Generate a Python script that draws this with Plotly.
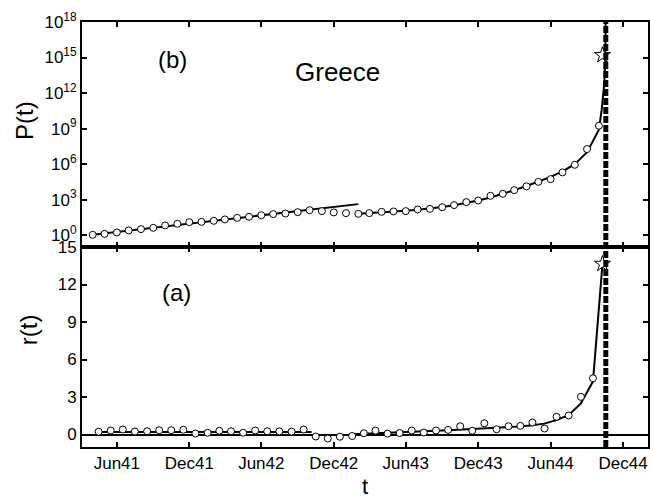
import plotly.graph_objects as go
import pandas as pd

# ---------------- data ----------------
# monthly observations, Apr 1941 .. Oct 1944
p_start = "1941-04-01"
n_months = 43
log10_P = [0.03, 0.11, 0.23, 0.40, 0.51, 0.62, 0.82, 0.96, 1.10, 1.12,
           1.21, 1.33, 1.46, 1.55, 1.68, 1.78, 1.83, 1.94, 2.11, 2.03,
           1.92, 1.86, 1.80, 1.86, 1.97, 2.00, 2.03, 2.17, 2.22, 2.36,
           2.54, 2.79, 2.93, 3.32, 3.49, 3.80, 4.12, 4.50, 4.73, 5.30,
           5.94, 7.27, 9.24]

# growth rate between consecutive months
r_vals = [0.22, 0.32, 0.40, 0.24, 0.26, 0.34, 0.34, 0.38, 0.08, 0.14,
          0.30, 0.26, 0.14, 0.32, 0.26, 0.25, 0.23, 0.40, -0.16, -0.32,
          -0.18, -0.12, 0.10, 0.31, 0.07, 0.12, 0.32, 0.16, 0.32, 0.37,
          0.66, 0.30, 0.90, 0.42, 0.66, 0.69, 0.96, 0.48, 1.42, 1.52,
          3.01, 4.50]

# fit 1 (exponential regime)
fit1_P_dates = ["1941-04-01", "1943-02-01"]
fit1_log10_P = [0.04, 2.62]
fit1_r_dates = ["1941-04-16", "1942-10-06"]
fit1_r = [0.2, 0.2]

# fit 2 (singular regime)
fit2_P_dates = ["1943-02-01", "1943-03-01", "1943-04-01", "1943-05-01", "1943-06-01",
                "1943-07-01", "1943-08-01", "1943-09-01", "1943-10-01", "1943-11-01",
                "1943-12-01", "1944-01-01", "1944-02-01", "1944-03-01", "1944-04-01",
                "1944-05-01", "1944-06-01", "1944-07-01", "1944-08-01", "1944-09-01",
                "1944-10-01", "1944-10-08", "1944-10-12", "1944-10-15", "1944-10-17",
                "1944-10-18"]
fit2_log10_P = [1.80, 1.85, 1.92, 1.99, 2.07, 2.15, 2.25, 2.37, 2.52, 2.70,
                2.92, 3.18, 3.47, 3.80, 4.15, 4.52, 4.92, 5.38, 6.00, 7.00,
                8.90, 10.6, 11.8, 13.0, 15.0, 18.0]
fit2_r_dates = ["1943-01-16", "1943-02-15", "1943-03-16", "1943-04-16", "1943-05-16",
                "1943-06-16", "1943-07-16", "1943-08-16", "1943-09-16", "1943-10-16",
                "1943-11-16", "1943-12-16", "1944-01-16", "1944-02-15", "1944-03-16",
                "1944-04-16", "1944-05-16", "1944-06-16", "1944-07-16", "1944-08-16",
                "1944-09-16", "1944-10-10"]
fit2_r = [0.03, 0.06, 0.10, 0.13, 0.17, 0.21, 0.26, 0.30, 0.35, 0.39,
          0.43, 0.47, 0.52, 0.58, 0.65, 0.74, 0.87, 1.15, 1.55, 2.47,
          4.25, 13.65]

# predicted singularity
star_date = "1944-10-10"
star_log10_P = 15.2
star_r = 13.65
tc_date = "1944-10-18 10:00"

x_ticks = ["1941-06-01", "1941-12-01", "1942-06-01", "1942-12-01",
           "1943-06-01", "1943-12-01", "1944-06-01", "1944-12-01"]
x_ticktext = ["Jun41", "Dec41", "Jun42", "Dec42", "Jun43", "Dec43", "Jun44", "Dec44"]
x_range = ["1941-03-05", "1945-02-02"]
p_tick_exps = [0, 3, 6, 9, 12, 15, 18]
r_ticks = [0, 3, 6, 9, 12, 15]

# ---------------- build ----------------
p_dates = pd.date_range(p_start, periods=n_months, freq="MS")
r_dates = p_dates[:-1] + (p_dates[1:] - p_dates[:-1]) / 2
P = [10 ** v for v in log10_P]

font_family = "Liberation Sans, Arial, Helvetica, sans-serif"
marker_circle = dict(symbol="circle", size=7, color="white",
                     line=dict(color="black", width=1))
marker_star = dict(symbol="star", size=12, color="white",
                   line=dict(color="black", width=1))
fit_line = dict(color="black", width=2)

fig = go.Figure()

# upper panel (P)
fig.add_trace(go.Scatter(x=fit1_P_dates, y=[10 ** v for v in fit1_log10_P],
                         mode="lines", line=fit_line, xaxis="x2", yaxis="y2"))
fig.add_trace(go.Scatter(x=fit2_P_dates, y=[10 ** v for v in fit2_log10_P],
                         mode="lines", line=fit_line, xaxis="x2", yaxis="y2"))
fig.add_trace(go.Scatter(x=p_dates, y=P, mode="markers", marker=marker_circle,
                         xaxis="x2", yaxis="y2"))
fig.add_trace(go.Scatter(x=[star_date], y=[10 ** star_log10_P], mode="markers",
                         marker=marker_star, xaxis="x2", yaxis="y2"))

# lower panel (r)
fig.add_trace(go.Scatter(x=fit1_r_dates, y=fit1_r, mode="lines", line=fit_line,
                         xaxis="x", yaxis="y"))
fig.add_trace(go.Scatter(x=fit2_r_dates, y=fit2_r, mode="lines", line=fit_line,
                         xaxis="x", yaxis="y"))
fig.add_trace(go.Scatter(x=r_dates, y=r_vals, mode="markers", marker=marker_circle,
                         xaxis="x", yaxis="y"))
fig.add_trace(go.Scatter(x=[star_date], y=[star_r], mode="markers",
                         marker=marker_star, xaxis="x", yaxis="y"))

split = 200 / 425.0
axis_common = dict(showline=True, linecolor="black", linewidth=2, mirror="ticks",
                   ticks="inside", ticklen=5, tickwidth=1.5, tickcolor="black",
                   showgrid=False, automargin=False,
                   tickfont=dict(size=17, color="black", family=font_family))

fig.update_layout(
    width=650, height=498,
    margin=dict(l=82, r=2, t=22, b=51),
    paper_bgcolor="white", plot_bgcolor="white",
    showlegend=False,
    font=dict(family=font_family, color="black"),
    xaxis=dict(domain=[0, 1], anchor="y", type="date", range=x_range,
               tickvals=x_ticks, ticktext=x_ticktext, zeroline=False, **axis_common),
    yaxis=dict(domain=[0, split], anchor="x", range=[-1, 15], tickvals=r_ticks,
               zeroline=True, zerolinecolor="black", zerolinewidth=1.5, **axis_common),
    xaxis2=dict(domain=[0, 1], anchor="y2", type="date", range=x_range,
                tickvals=x_ticks, showticklabels=False, zeroline=False, **axis_common),
    yaxis2=dict(domain=[split, 1], anchor="x2", type="log", range=[-1, 18],
                tickvals=[10 ** e for e in p_tick_exps],
                ticktext=["10<sup>%d</sup>" % e for e in p_tick_exps], **axis_common),
)

fig.add_shape(type="line", x0=tc_date, x1=tc_date, xref="x", yref="paper",
              y0=0, y1=1, line=dict(color="black", width=5, dash="7px,2px"))

ann_font = dict(size=24, color="black", family=font_family)
fig.add_annotation(x="1941-10-20", y=14.8, xref="x2", yref="y2", text="(b)",
                   showarrow=False, font=ann_font)
fig.add_annotation(x="1942-12-10", y=13.8, xref="x2", yref="y2", text="Greece",
                   showarrow=False, font=dict(size=26, color="black", family=font_family))
fig.add_annotation(x="1941-10-29", y=11.33, xref="x", yref="y", text="(a)",
                   showarrow=False, font=ann_font)
fig.add_annotation(x=-0.1007, y=split + (1 - split) * 0.56, xref="paper", yref="paper",
                   xanchor="center", yanchor="middle",
                   text="P(t)", textangle=-90, showarrow=False, font=ann_font)
fig.add_annotation(x=-0.095, y=split * 0.585, xref="paper", yref="paper",
                   xanchor="center", yanchor="middle",
                   text="r(t)", textangle=-90, showarrow=False, font=ann_font)
fig.add_annotation(x=0.5, y=-0.092, xref="paper", yref="paper", text="t",
                   xanchor="center", yanchor="middle",
                   showarrow=False, font=dict(size=22, color="black", family=font_family))

fig.write_html("out.html", config={"displayModeBar": False},
               post_script="document.body.style.margin='0';document.body.style.overflow='hidden';")
